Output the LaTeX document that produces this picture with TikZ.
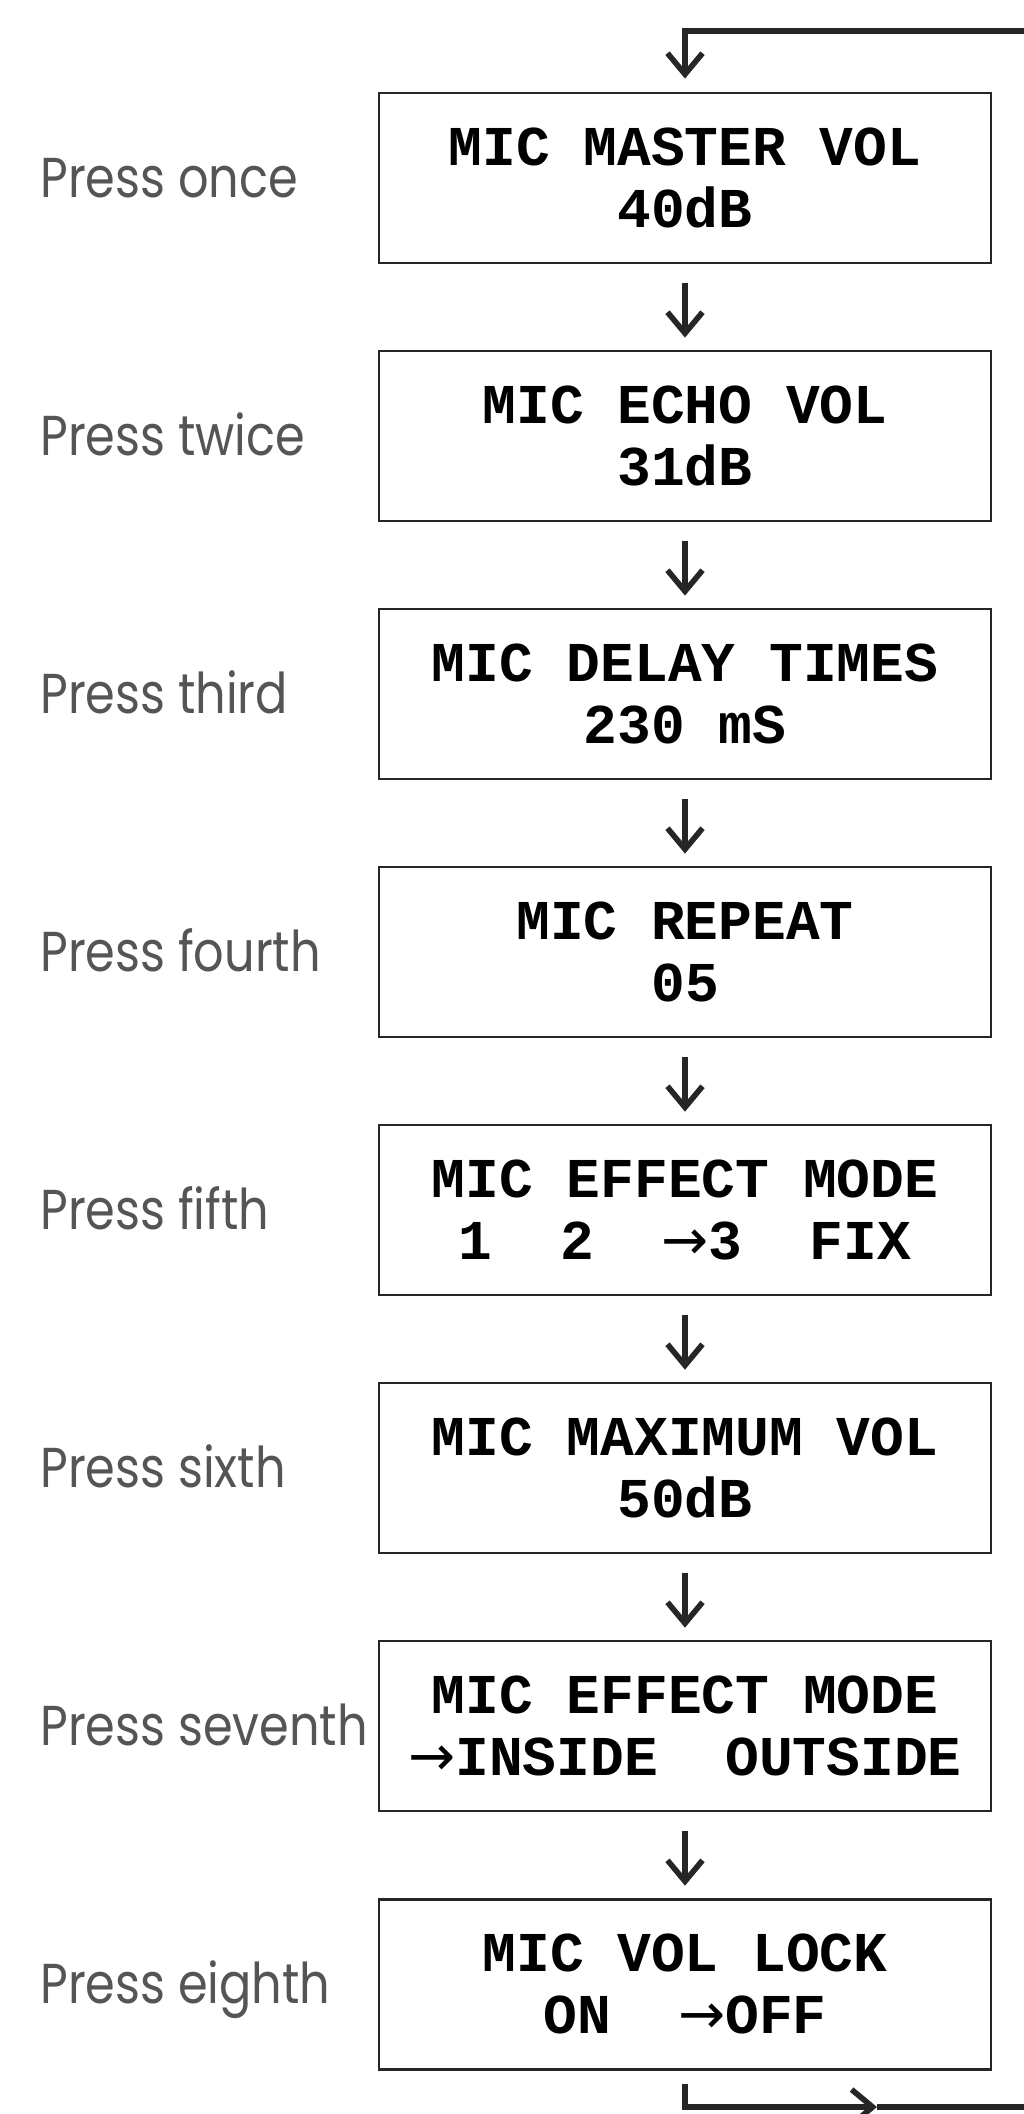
\documentclass[tikz,border=0pt]{standalone}
\usepackage{fontspec}
\setmonofont{Liberation Mono}
\newfontfamily\pressfont{Poppins}[FakeStretch=0.85]
\newfontfamily\arrowfont{DejaVu Sans}
\usetikzlibrary{arrows.meta, positioning}
\definecolor{lblgray}{HTML}{555555}
\newcommand\selarrow{{\arrowfont\mdseries\fontsize{32}{35}\selectfont →}}

\begin{document}
\begin{tikzpicture}[
        node distance=1.704cm,
        dispbox/.style={
            rectangle,
            draw=black!85,
            line width=1.6pt,
            align=center,
            minimum width=12.24cm,
            minimum height=3.4cm,
            inner sep=0pt,
            font=\ttfamily\bfseries\fontsize{32}{35}\selectfont
        },
        presslbl/.style={
            anchor=base west,
            yshift=-0.38cm,
            inner sep=0pt,
            text=lblgray,
            font=\pressfont\fontsize{32}{38}\selectfont
        },
        arrow/.style={
            -{Straight Barb[length=0.42cm, width=0.7cm]},
            draw=black!85,
            line width=3.2pt,
            shorten <=0.38cm,
            shorten >=0.24cm
        },
        loopline/.style={
            draw=black!85,
            line width=3.2pt
        }
    ]

    \useasboundingbox (0,0) rectangle (20.46,-42.28);

    % Display boxes
    \node[dispbox] (b1) at (13.7,-3.56) {MIC MASTER VOL\\40dB};
    \node[dispbox, below=of b1] (b2) {MIC ECHO VOL\\31dB};
    \node[dispbox, below=of b2] (b3) {MIC DELAY TIMES\\230 mS};
    \node[dispbox, below=of b3] (b4) {MIC REPEAT\\05};
    \node[dispbox, below=of b4] (b5) {MIC EFFECT MODE\\1~~2~~\selarrow3~~FIX};
    \node[dispbox, below=of b5] (b6) {MIC MAXIMUM VOL\\50dB};
    \node[dispbox, below=of b6] (b7) {MIC EFFECT MODE\\\selarrow INSIDE~~OUTSIDE};
    \node[dispbox, below=of b7] (b8) {MIC VOL LOCK\\ON~~\selarrow OFF};

    % Press labels
    \coordinate (lblx) at (0.8,0);
    \node[presslbl] (p1) at (lblx |- b1) {Press once};
    \node[presslbl] (p2) at (lblx |- b2) {Press twice};
    \node[presslbl] (p3) at (lblx |- b3) {Press third};
    \node[presslbl] (p4) at (lblx |- b4) {Press fourth};
    \node[presslbl] (p5) at (lblx |- b5) {Press fifth};
    \node[presslbl] (p6) at (lblx |- b6) {Press sixth};
    \node[presslbl] (p7) at (lblx |- b7) {Press seventh};
    \node[presslbl] (p8) at (lblx |- b8) {Press eighth};

    % Step arrows
    \draw[arrow] (b1.south) -- (b2.north);
    \draw[arrow] (b2.south) -- (b3.north);
    \draw[arrow] (b3.south) -- (b4.north);
    \draw[arrow] (b4.south) -- (b5.north);
    \draw[arrow] (b5.south) -- (b6.north);
    \draw[arrow] (b6.south) -- (b7.north);
    \draw[arrow] (b7.south) -- (b8.north);

    % Loop back in at the top and out at the bottom
    \coordinate (topR) at (20.7,-0.62);
    \coordinate (botmid) at (17.54,-42.14);
    \coordinate (botR) at (20.7,-42.14);
    \draw[loopline, -{Straight Barb[length=0.42cm, width=0.7cm]}, shorten >=0.26cm] (topR) -| (b1.north);
    \draw[loopline, -{Straight Barb[length=0.42cm, width=0.7cm]}, shorten <=0.26cm] (b8.south) |- (botmid);
    \draw[loopline] (botmid) -- (botR);

\end{tikzpicture}
\end{document}
